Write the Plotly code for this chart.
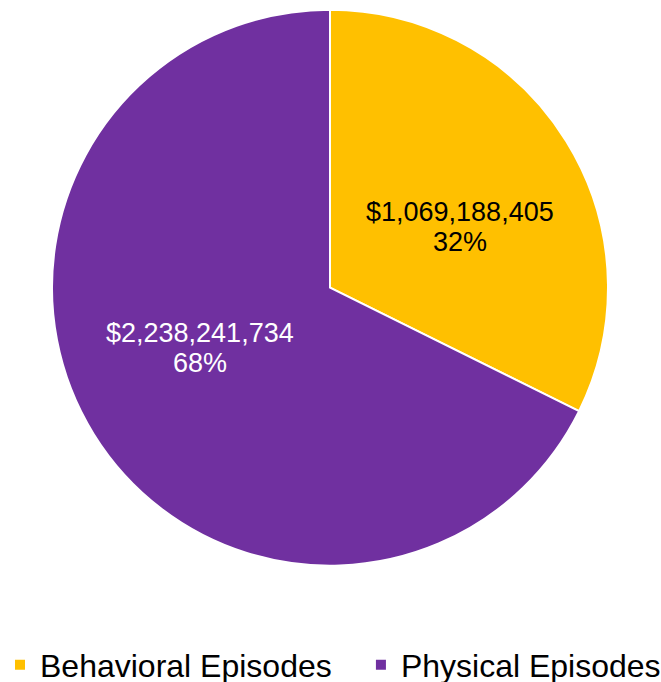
import math
import plotly.graph_objects as go

labels = ["Behavioral Episodes\u00a0\u00a0\u2009", "Physical Episodes"]
values = [1069188405, 2238241734]
colors = ["#FFC000", "#7030A0"]
text_colors = ["#000000", "#FFFFFF"]

W, H = 661, 682
cx, cy, r = 330, 287, 278
push = 46  # bottom margin pushed by the legend
Hp = H - push

fig = go.Figure(go.Pie(
    labels=labels,
    values=values,
    sort=False,
    direction="clockwise",
    rotation=0,
    marker=dict(colors=colors, line=dict(color="white", width=2)),
    textinfo="none",
    domain=dict(x=[(cx - r) / W, (cx + r) / W], y=[(Hp - (cy + r)) / Hp, (Hp - (cy - r)) / Hp]),
    hoverinfo="skip",
))

# data labels placed inside each slice (Excel-like best fit)
total = sum(values)
cum = 0.0
annotations = []
for v, tc in zip(values, text_colors):
    frac = v / total
    mid = cum + frac / 2
    cum += frac
    ang = math.radians(90 - mid * 360 - 7)
    px = cx + 0.515 * r * math.cos(ang)
    py = cy - 0.515 * r * math.sin(ang)
    for txt, dy in ((f"${v:,.0f}", -15), (f"{round(100 * frac)}%", 15)):
        annotations.append(dict(
            x=px / W, y=(Hp - (py + dy)) / Hp, xref="paper", yref="paper",
            text=txt, showarrow=False, xanchor="center", yanchor="middle",
            font=dict(family="Liberation Sans, Arial, sans-serif", size=27, color=tc),
        ))

fig.update_layout(
    width=W, height=H,
    margin=dict(l=0, r=0, t=0, b=0),
    paper_bgcolor="white",
    plot_bgcolor="white",
    showlegend=True,
    annotations=annotations,
    legend=dict(
        orientation="h",
        x=-2 / W, xanchor="left",
        xref="container", yref="container",
        y=1 - 665 / H, yanchor="middle",
        font=dict(family="Liberation Sans, Arial, sans-serif", size=32, color="#000000"),
        itemsizing="constant",
    ),
)

fig.write_html("out.html", config={"displayModeBar": False},
               post_script="document.body.style.margin='0';document.body.style.overflow='hidden';")
